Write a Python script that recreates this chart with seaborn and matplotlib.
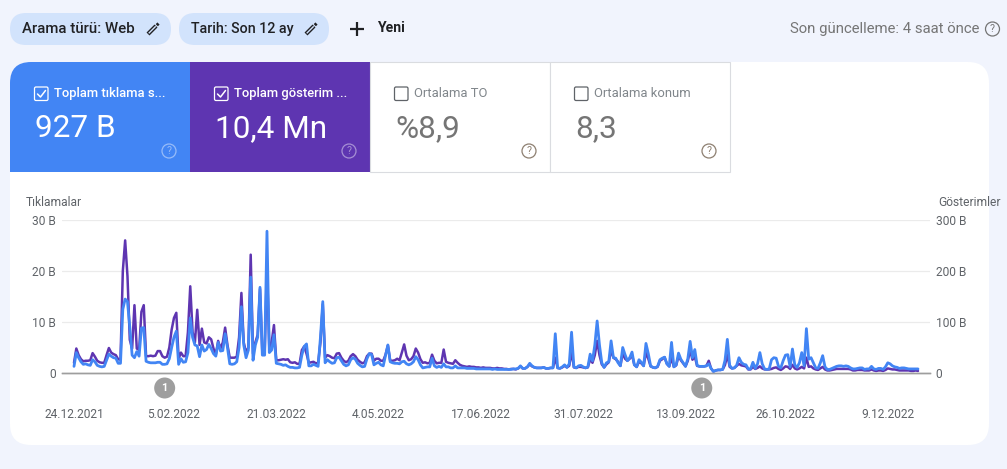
import matplotlib
matplotlib.use("Agg")
import matplotlib.pyplot as plt
from matplotlib.patches import FancyBboxPatch, Rectangle, Circle
import pandas as pd
import seaborn as sns

# ---------- data ----------
start_date = "2021-12-24"
clicks_k = [
    1.3,4.0,3.0,2.2,1.7,1.8,1.6,1.5,2.6,2.2,
    1.5,1.3,1.2,1.3,2.5,3.7,3.3,3.0,2.9,1.9,
    1.9,12.5,14.5,14.0,9.0,3.5,3.0,4.2,3.3,8.8,
    8.9,2.3,2.1,2.0,2.0,2.0,2.1,2.1,1.7,1.7,
    1.8,2.8,5.0,7.0,8.2,1.7,2.8,2.1,2.2,4.0,
    10.8,7.0,5.5,5.3,3.2,5.5,4.3,4.6,5.6,4.8,
    3.8,3.3,6.0,4.3,4.4,7.7,5.0,1.8,1.7,1.8,
    2.2,5.0,13.0,5.5,3.0,4.5,18.8,2.5,5.5,7.0,
    16.8,3.5,3.5,27.8,4.0,4.5,7.5,1.9,1.8,1.7,
    1.5,1.6,1.3,1.1,1.1,1.0,1.0,1.1,3.5,5.2,
    5.7,1.4,1.4,1.7,1.5,1.3,7.0,14.0,2.0,2.6,
    2.2,1.9,2.0,3.0,3.1,2.4,1.7,1.4,1.6,2.6,
    3.0,2.7,1.9,1.5,1.2,1.3,2.8,3.8,3.6,1.6,
    1.9,2.1,1.6,1.4,3.5,5.5,2.2,2.0,1.9,1.9,
    1.8,2.2,2.3,1.8,1.6,1.8,2.2,3.2,2.6,1.6,
    1.0,1.1,1.2,1.2,2.9,1.4,1.1,1.3,1.1,1.8,
    1.2,1.2,1.0,1.0,1.4,1.0,1.0,1.0,1.0,0.9,
    0.9,0.9,0.9,0.8,0.8,0.8,0.8,0.8,0.8,0.8,
    0.7,0.8,0.7,0.7,0.7,0.7,0.7,0.7,0.7,0.8,
    0.8,0.9,1.4,0.9,0.9,1.2,1.9,1.4,1.1,1.0,
    1.0,1.0,1.1,0.9,0.9,1.0,1.0,7.7,1.0,0.9,
    1.2,1.6,1.1,1.8,8.0,1.2,1.0,1.4,1.5,1.2,
    1.0,1.2,3.7,2.4,5.5,10.2,5.5,2.0,1.1,2.0,
    2.2,6.3,3.0,2.9,2.0,1.4,5.0,3.6,2.4,3.0,
    4.1,1.6,1.2,2.6,2.1,1.4,5.8,3.8,1.4,1.1,
    1.0,1.3,2.6,2.9,3.1,1.8,1.3,6.0,1.2,1.6,
    3.9,2.7,2.0,1.3,2.8,6.2,3.0,4.6,1.5,1.3,
    1.3,1.3,1.4,1.8,0.9,0.3,0.5,0.6,0.6,0.7,
    2.5,6.6,1.5,0.9,1.0,1.5,3.0,2.1,1.7,1.6,
    0.8,0.8,2.1,0.9,1.8,4.0,1.8,0.8,0.7,0.8,
    2.6,3.0,2.9,1.3,1.0,2.4,3.5,3.6,1.2,4.7,
    1.6,1.1,2.0,4.0,1.4,8.7,2.7,3.0,2.0,1.0,
    0.9,2.0,3.4,1.2,0.7,0.7,0.9,1.1,1.3,1.4,
    1.4,1.3,1.4,1.3,1.0,0.8,0.8,0.9,1.0,1.0,
    0.7,0.8,0.8,1.3,0.8,0.7,0.9,0.9,0.7,1.2,
    2.0,1.8,1.4,1.2,1.1,0.9,1.0,1.0,0.9,0.8,
    0.8,0.8,0.8,0.8,
]
impressions_k = [
    20,48,35,27,23,24,24,25,39,32,
    24,21,20,20,35,49,40,37,35,27,
    26,200,260,190,65,48,133,48,45,120,
    133,33,33,34,33,34,43,43,33,30,
    32,50,85,108,118,28,40,33,33,80,
    170,80,60,124,55,87,60,58,70,66,
    48,36,63,48,60,89,55,30,30,30,
    32,70,157,60,40,50,232,38,60,75,
    165,40,40,210,48,60,94,25,25,26,
    27,26,27,21,20,21,18,18,45,52,
    38,20,21,22,19,20,60,135,30,35,
    33,30,29,38,39,30,24,21,24,33,
    37,33,26,22,19,21,33,38,38,24,
    28,28,24,24,36,54,24,24,25,28,
    25,40,56,34,25,27,33,48,40,27,
    20,21,19,20,36,24,19,20,20,46,
    22,20,19,18,25,20,16,14,13,12,
    13,12,12,11,11,10,11,10,10,10,
    9,9,10,9,9,8,8,7,8,8,
    7,9,13,9,9,12,17,13,11,10,
    10,10,11,9,9,10,10,30,10,9,
    11,14,11,14,42,11,10,12,12,11,
    10,11,27,20,35,63,35,17,11,17,
    21,45,30,27,22,14,39,28,24,28,
    35,16,12,22,19,14,40,28,13,11,
    10,12,24,27,31,18,13,30,12,15,
    33,25,19,13,24,45,26,32,14,13,
    13,13,14,24,9,3,5,6,6,7,
    16,36,12,9,10,14,18,15,14,13,
    7,7,12,8,10,13,9,7,7,7,
    8,10,11,8,6,9,13,12,8,16,
    9,7,9,12,9,30,12,13,9,7,
    6,9,12,7,5,5,6,7,8,8,
    8,8,8,8,7,5,5,6,6,6,
    5,5,5,7,5,4,5,5,4,6,
    9,8,7,7,6,5,5,5,5,5,
    4,4,5,4,
]
x_tick_dates = ["2021-12-24","2022-02-05","2022-03-21","2022-05-04","2022-06-17",
                "2022-07-31","2022-09-13","2022-10-26","2022-12-09"]
x_tick_labels = ["24.12.2021","5.02.2022","21.03.2022","4.05.2022","17.06.2022",
                 "31.07.2022","13.09.2022","26.10.2022","9.12.2022"]
left_ticks = [0, 10, 20, 30]
left_labels = ["0", "10 B", "20 B", "30 B"]
right_ticks = [0, 100, 200, 300]
right_labels = ["0", "100 B", "200 B", "300 B"]
annotation_dates = ["2022-02-01", "2022-09-20"]
card_titles = ["Toplam tıklama s...", "Toplam gösterim ...", "Ortalama TO", "Ortalama konum"]
card_values = ["927 B", "10,4 Mn", "%8,9", "8,3"]

# ---------- style ----------
BG = "#f1f4fd"; CHIP = "#d2e3fc"; BLUE = "#4285f4"; PURPLE = "#5e35b1"
GREY = "#757575"; TICK = "#5f6368"; DARK = "#202124"; GRID = "#ebebeb"; AXIS = "#9e9e9e"
sns.set_theme(style="white")
plt.rcParams["font.family"] = ["Roboto", "DejaVu Sans"]
W, H = 1007, 469
PX = 0.72  # px -> pt at dpi 100
fig = plt.figure(figsize=(W / 100, H / 100), dpi=100, facecolor=BG)

# ---------- background layer in pixel coordinates ----------
bg = fig.add_axes([0, 0, 1, 1], zorder=0)
bg.set_xlim(0, W); bg.set_ylim(H, 0); bg.axis("off")

def rbox(ax, x0, y0, x1, y1, r, fc, ec="none", lw=0, z=1):
    ax.add_patch(FancyBboxPatch((x0 + r, y0 + r), x1 - x0 - 2 * r, y1 - y0 - 2 * r,
                                boxstyle=f"round,pad={r},rounding_size={r}",
                                fc=fc, ec=ec, lw=lw, zorder=z))

rbox(bg, 10, 62, 989, 445, 21, "white")
# chips
rbox(bg, 10, 13, 171, 45, 16, CHIP)
rbox(bg, 179, 13, 329, 45, 16, CHIP)
bg.text(22, 29, "Arama türü: Web", fontsize=15 * PX, color=DARK, va="center", ha="left", fontweight="medium")
bg.text(191, 29, "Tarih: Son 12 ay", fontsize=14.2 * PX, color=DARK, va="center", ha="left", fontweight="medium")

def pencil(ax, cx, cy):
    ax.plot([cx - 5, cx + 3], [cy + 5, cy - 3], color=DARK, lw=3.0, solid_capstyle="butt", zorder=3)
    ax.plot([cx - 4.3, cx + 2.7], [cy + 4.3, cy - 2.7], color=CHIP, lw=1.0, solid_capstyle="butt", zorder=4)
    ax.plot([cx + 3.8, cx + 5.5], [cy - 3.8, cy - 5.5], color=DARK, lw=2.2, solid_capstyle="butt", zorder=3)

pencil(bg, 153, 29); pencil(bg, 311, 29)
bg.plot([350, 364], [29, 29], color=DARK, lw=1.6, zorder=3, solid_capstyle="butt")
bg.plot([357, 357], [22, 36], color=DARK, lw=1.6, zorder=3, solid_capstyle="butt")
bg.text(377, 28.5, "Yeni", fontsize=14 * PX, color=DARK, va="center", ha="left", fontweight="bold")
bg.text(979.5, 29, "Son güncelleme: 4 saat önce", fontsize=14.9 * PX, color=GREY, va="center", ha="right")

def qmark(ax, cx, cy, col, alpha=1.0):
    ax.add_patch(Circle((cx, cy), 7, fc="none", ec=col, lw=0.9, alpha=alpha, zorder=5))
    ax.text(cx, cy + 0.3, "?", fontsize=10.5 * PX, color=col, alpha=alpha, ha="center", va="center", zorder=5)

qmark(bg, 992.5, 29, GREY)

# metric cards
card_x = [10, 190, 370, 550]
rbox(bg, 10, 62, 60, 112, 21, BLUE, z=2)
bg.add_patch(Rectangle((31, 62), 159, 110, fc=BLUE, ec="none", lw=0, zorder=2))
bg.add_patch(Rectangle((10, 83), 30, 89, fc=BLUE, ec="none", lw=0, zorder=2))
bg.add_patch(Rectangle((190, 62), 180, 110, fc=PURPLE, ec="none", lw=0, zorder=2))
for i in (2, 3):
    bg.add_patch(Rectangle((card_x[i], 62), 180 - 0.5, 110, fc="white", ec="#dadce0", lw=0.8, zorder=2))
for i, x in enumerate(card_x):
    active = i < 2
    col = "white" if active else GREY
    rbox(bg, x + 24.5, 87, x + 38, 100.5, 1.5, "none", ec="white" if active else "#5f6368", lw=0.9, z=4)
    if active:
        bg.plot([x + 27.5, x + 30.5, x + 35.5], [94, 97, 90.5], color="white", lw=1.1, zorder=5)
    bg.text(x + 44, 93.5, card_titles[i], fontsize=13 * PX, color=col if active else "#80868b", va="center", ha="left",
            fontweight="medium" if active else "normal", zorder=5)
    bg.text(x + 25, 128.5, card_values[i], fontsize=31.5 * PX, color=col, va="center", ha="left",
            fontweight="normal", zorder=5)
    qmark(bg, x + 159, 151, "white" if active else "#8d7f70", alpha=0.45 if active else 1.0)

# ---------- chart ----------
dates = pd.date_range(start_date, periods=len(clicks_k), freq="D")
frame = pd.DataFrame({"date": dates, "clicks": clicks_k, "impressions": impressions_k})

ax = fig.add_axes([62 / W, 1 - 373 / H, 868 / W, 153 / H], zorder=2)
ax.patch.set_alpha(0)
ax2 = ax.twinx()
ax2.patch.set_alpha(0)
ax.set_zorder(3); ax2.set_zorder(2)

sns.lineplot(data=frame, x="date", y="impressions", ax=ax2, color=PURPLE, linewidth=1.8, errorbar=None)
sns.lineplot(data=frame, x="date", y="clicks", ax=ax, color=BLUE, linewidth=2.0, errorbar=None)

x0 = dates[0] - pd.Timedelta(days=5.16)
x1 = dates[-1] + pd.Timedelta(days=5.16)
ax.set_xlim(x0, x1)
ax.set_ylim(0, 30); ax2.set_ylim(0, 300)
ax.set_xlabel(""); ax.set_ylabel(""); ax2.set_ylabel(""); ax2.set_xlabel("")
ax.set_xticks(pd.to_datetime(x_tick_dates))
ax.set_xticklabels(x_tick_labels, fontsize=12 * PX, color=TICK)
ax.tick_params(axis="x", length=0, pad=25)
ax.set_yticks(left_ticks); ax.set_yticklabels(left_labels, fontsize=12 * PX, color=TICK)
ax2.set_yticks(right_ticks); ax2.set_yticklabels(right_labels, fontsize=12 * PX, color=TICK)
ax.tick_params(axis="y", length=0, pad=4.5)
ax2.tick_params(axis="y", length=0, pad=4)
ax2.grid(False)
ax2.yaxis.grid(True, color=GRID, lw=0.9)
ax2.set_axisbelow(True)
for a in (ax, ax2):
    for s in ("top", "left", "right"):
        a.spines[s].set_visible(False)
    a.spines["bottom"].set_color(AXIS)
    a.spines["bottom"].set_linewidth(1.0)

fig.text(26 / W, 1 - 202 / H, "Tıklamalar", fontsize=12 * PX, color=TICK, va="center", ha="left")
fig.text(1001 / W, 1 - 202 / H, "Gösterimler", fontsize=12 * PX, color=TICK, va="center", ha="right")

# annotation badges under the axis
for d in pd.to_datetime(annotation_dates):
    ax.annotate("1", xy=(d, 0), xycoords=("data", "axes fraction"), xytext=(0, -15 * PX),
                textcoords="offset points", ha="center", va="center", fontsize=11 * PX,
                fontweight="bold", color="white", annotation_clip=False,
                bbox=dict(boxstyle="circle,pad=0.5", fc="#9e9e9e", ec="none"))

fig.savefig("out.png", dpi=100, facecolor=BG)
